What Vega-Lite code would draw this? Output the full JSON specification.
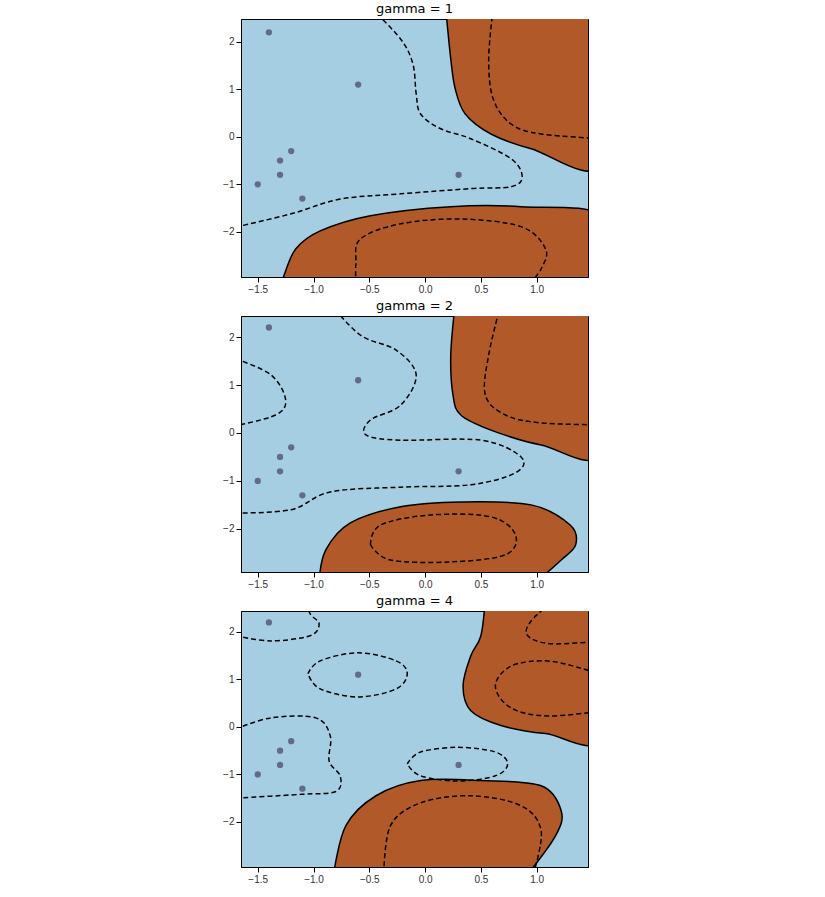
{
"$schema":"https://vega.github.io/schema/vega-lite/v6.json",
"padding":{"left":222,"top":2,"right":5,"bottom":2},
"spacing":4,
"config":{"view":{"fill":"#a6cee3","stroke":"black"},"axis":{"grid":false,"labelFontSize":10,"labelColor":"#333","domain":true,"domainColor":"black","tickColor":"black","title":null},"title":{"fontSize":13,"fontWeight":"normal","font":"DejaVu Sans","offset":3}},
"datasets":{
"c":[
{"p":1,"g":"f1","k":"f","o":1,"x":0.185,"y":2.7},{"p":1,"g":"f1","k":"f","o":2,"x":0.23,"y":1.64},{"p":1,"g":"f1","k":"f","o":3,"x":0.27,"y":1.01},{"p":1,"g":"f1","k":"f","o":4,"x":0.36,"y":0.48},{"p":1,"g":"f1","k":"f","o":5,"x":0.59,"y":0.06},{"p":1,"g":"f1","k":"f","o":6,"x":0.95,"y":-0.25},{"p":1,"g":"f1","k":"f","o":7,"x":1.6,"y":-0.55},{"p":1,"g":"f1","k":"f","o":8,"x":1.6,"y":2.7},
{"p":1,"g":"f2","k":"f","o":1,"x":-1.3,"y":-3.1},{"p":1,"g":"f2","k":"f","o":2,"x":-1.27,"y":-2.95},{"p":1,"g":"f2","k":"f","o":3,"x":-1.16,"y":-2.36},{"p":1,"g":"f2","k":"f","o":4,"x":-0.94,"y":-1.98},{"p":1,"g":"f2","k":"f","o":5,"x":-0.49,"y":-1.66},{"p":1,"g":"f2","k":"f","o":6,"x":0.23,"y":-1.47},{"p":1,"g":"f2","k":"f","o":7,"x":0.86,"y":-1.47},{"p":1,"g":"f2","k":"f","o":8,"x":1.6,"y":-1.68},{"p":1,"g":"f2","k":"f","o":9,"x":1.6,"y":-3.1},
{"p":1,"g":"d1","k":"d","o":1,"x":-0.48,"y":2.7},{"p":1,"g":"d1","k":"d","o":2,"x":-0.22,"y":2.06},{"p":1,"g":"d1","k":"d","o":3,"x":-0.11,"y":1.54},{"p":1,"g":"d1","k":"d","o":4,"x":-0.08,"y":0.91},{"p":1,"g":"d1","k":"d","o":5,"x":-0.04,"y":0.48},{"p":1,"g":"d1","k":"d","o":6,"x":0.14,"y":0.17},{"p":1,"g":"d1","k":"d","o":7,"x":0.41,"y":-0.04},{"p":1,"g":"d1","k":"d","o":8,"x":0.77,"y":-0.46},{"p":1,"g":"d1","k":"d","o":9,"x":0.87,"y":-0.84},{"p":1,"g":"d1","k":"d","o":10,"x":0.77,"y":-1.05},{"p":1,"g":"d1","k":"d","o":11,"x":0.41,"y":-1.09},{"p":1,"g":"d1","k":"d","o":12,"x":-0.22,"y":-1.2},{"p":1,"g":"d1","k":"d","o":13,"x":-0.76,"y":-1.31},{"p":1,"g":"d1","k":"d","o":14,"x":-1.2,"y":-1.62},{"p":1,"g":"d1","k":"d","o":15,"x":-1.7,"y":-1.9},
{"p":1,"g":"d2","k":"d","o":1,"x":0.61,"y":2.7},{"p":1,"g":"d2","k":"d","o":2,"x":0.57,"y":1.64},{"p":1,"g":"d2","k":"d","o":3,"x":0.61,"y":0.8},{"p":1,"g":"d2","k":"d","o":4,"x":0.77,"y":0.27},{"p":1,"g":"d2","k":"d","o":5,"x":1.04,"y":0.06},{"p":1,"g":"d2","k":"d","o":6,"x":1.6,"y":-0.04},
{"p":1,"g":"d3","k":"d","o":1,"x":-0.62,"y":-3.1},{"p":1,"g":"d3","k":"d","o":2,"x":-0.62,"y":-2.67},{"p":1,"g":"d3","k":"d","o":3,"x":-0.58,"y":-2.15},{"p":1,"g":"d3","k":"d","o":4,"x":-0.22,"y":-1.83},{"p":1,"g":"d3","k":"d","o":5,"x":0.32,"y":-1.73},{"p":1,"g":"d3","k":"d","o":6,"x":0.86,"y":-1.89},{"p":1,"g":"d3","k":"d","o":7,"x":1.08,"y":-2.36},{"p":1,"g":"d3","k":"d","o":8,"x":1.04,"y":-2.78},{"p":1,"g":"d3","k":"d","o":9,"x":0.93,"y":-3.1},

{"p":2,"g":"f1","k":"f","o":1,"x":0.27,"y":2.7},{"p":2,"g":"f1","k":"f","o":2,"x":0.23,"y":1.63},{"p":2,"g":"f1","k":"f","o":3,"x":0.25,"y":0.79},{"p":2,"g":"f1","k":"f","o":4,"x":0.32,"y":0.375},{"p":2,"g":"f1","k":"f","o":5,"x":0.59,"y":0.06},{"p":2,"g":"f1","k":"f","o":6,"x":1.04,"y":-0.25},{"p":2,"g":"f1","k":"f","o":7,"x":1.6,"y":-0.37},{"p":2,"g":"f1","k":"f","o":8,"x":1.6,"y":2.7},
{"p":2,"g":"f2","k":"f","o":1,"x":-0.95,"y":-3.1},{"p":2,"g":"f2","k":"f","o":2,"x":-0.89,"y":-2.44},{"p":2,"g":"f2","k":"f","o":3,"x":-0.67,"y":-1.875},{"p":2,"g":"f2","k":"f","o":4,"x":-0.22,"y":-1.54},{"p":2,"g":"f2","k":"f","o":5,"x":0.32,"y":-1.44},{"p":2,"g":"f2","k":"f","o":6,"x":0.95,"y":-1.5},{"p":2,"g":"f2","k":"f","o":7,"x":1.3,"y":-1.92},{"p":2,"g":"f2","k":"f","o":8,"x":1.35,"y":-2.33},{"p":2,"g":"f2","k":"f","o":9,"x":1.22,"y":-2.65},{"p":2,"g":"f2","k":"f","o":10,"x":1.0,"y":-3.1},
{"p":2,"g":"d1","k":"d","o":1,"x":-1.7,"y":1.55},{"p":2,"g":"d1","k":"d","o":2,"x":-1.38,"y":1.21},{"p":2,"g":"d1","k":"d","o":3,"x":-1.25,"y":0.69},{"p":2,"g":"d1","k":"d","o":4,"x":-1.34,"y":0.375},{"p":2,"g":"d1","k":"d","o":5,"x":-1.7,"y":0.15},
{"p":2,"g":"d2","k":"d","o":1,"x":-0.85,"y":2.7},{"p":2,"g":"d2","k":"d","o":2,"x":-0.58,"y":2.04},{"p":2,"g":"d2","k":"d","o":3,"x":-0.26,"y":1.73},{"p":2,"g":"d2","k":"d","o":4,"x":-0.08,"y":1.21},{"p":2,"g":"d2","k":"d","o":5,"x":-0.22,"y":0.58},{"p":2,"g":"d2","k":"d","o":6,"x":-0.49,"y":0.27},{"p":2,"g":"d2","k":"d","o":7,"x":-0.53,"y":-0.04},{"p":2,"g":"d2","k":"d","o":8,"x":-0.22,"y":-0.15},{"p":2,"g":"d2","k":"d","o":9,"x":0.5,"y":-0.15},{"p":2,"g":"d2","k":"d","o":10,"x":0.86,"y":-0.5},{"p":2,"g":"d2","k":"d","o":11,"x":0.81,"y":-0.83},{"p":2,"g":"d2","k":"d","o":12,"x":0.41,"y":-1.08},{"p":2,"g":"d2","k":"d","o":13,"x":-0.22,"y":-1.13},{"p":2,"g":"d2","k":"d","o":14,"x":-0.85,"y":-1.23},{"p":2,"g":"d2","k":"d","o":15,"x":-1.2,"y":-1.6},{"p":2,"g":"d2","k":"d","o":16,"x":-1.7,"y":-1.67},
{"p":2,"g":"d3","k":"d","o":1,"x":0.68,"y":2.7},{"p":2,"g":"d3","k":"d","o":2,"x":0.57,"y":1.63},{"p":2,"g":"d3","k":"d","o":3,"x":0.54,"y":0.79},{"p":2,"g":"d3","k":"d","o":4,"x":0.72,"y":0.375},{"p":2,"g":"d3","k":"d","o":5,"x":1.04,"y":0.21},{"p":2,"g":"d3","k":"d","o":6,"x":1.6,"y":0.17},
{"p":2,"g":"d4","k":"d","o":1,"x":-0.49,"y":-2.33},{"p":2,"g":"d4","k":"d","o":2,"x":-0.4,"y":-1.92},{"p":2,"g":"d4","k":"d","o":3,"x":0.05,"y":-1.71},{"p":2,"g":"d4","k":"d","o":4,"x":0.59,"y":-1.75},{"p":2,"g":"d4","k":"d","o":5,"x":0.81,"y":-2.125},{"p":2,"g":"d4","k":"d","o":6,"x":0.72,"y":-2.54},{"p":2,"g":"d4","k":"d","o":7,"x":0.23,"y":-2.69},{"p":2,"g":"d4","k":"d","o":8,"x":-0.31,"y":-2.65},{"p":2,"g":"d4","k":"d","o":9,"x":-0.49,"y":-2.33},

{"p":4,"g":"f1","k":"f","o":1,"x":0.54,"y":2.7},{"p":4,"g":"f1","k":"f","o":2,"x":0.5,"y":1.92},{"p":4,"g":"f1","k":"f","o":3,"x":0.41,"y":1.5},{"p":4,"g":"f1","k":"f","o":4,"x":0.34,"y":0.86},{"p":4,"g":"f1","k":"f","o":5,"x":0.41,"y":0.34},{"p":4,"g":"f1","k":"f","o":6,"x":0.68,"y":0.03},{"p":4,"g":"f1","k":"f","o":7,"x":1.08,"y":-0.14},{"p":4,"g":"f1","k":"f","o":8,"x":1.6,"y":-0.19},{"p":4,"g":"f1","k":"f","o":9,"x":1.6,"y":2.7},
{"p":4,"g":"f2","k":"f","o":1,"x":-0.82,"y":-3.1},{"p":4,"g":"f2","k":"f","o":2,"x":-0.71,"y":-2.08},{"p":4,"g":"f2","k":"f","o":3,"x":-0.44,"y":-1.45},{"p":4,"g":"f2","k":"f","o":4,"x":-0.04,"y":-1.13},{"p":4,"g":"f2","k":"f","o":5,"x":0.5,"y":-1.13},{"p":4,"g":"f2","k":"f","o":6,"x":1.04,"y":-1.24},{"p":4,"g":"f2","k":"f","o":7,"x":1.22,"y":-1.77},{"p":4,"g":"f2","k":"f","o":8,"x":1.17,"y":-2.29},{"p":4,"g":"f2","k":"f","o":9,"x":0.92,"y":-3.1},
{"p":4,"g":"d1","k":"d","o":1,"x":-1.7,"y":1.92},{"p":4,"g":"d1","k":"d","o":2,"x":-1.38,"y":1.81},{"p":4,"g":"d1","k":"d","o":3,"x":-1.03,"y":1.92},{"p":4,"g":"d1","k":"d","o":4,"x":-0.95,"y":2.17},{"p":4,"g":"d1","k":"d","o":5,"x":-1.03,"y":2.38},{"p":4,"g":"d1","k":"d","o":6,"x":-1.08,"y":2.7},
{"p":4,"g":"d2","k":"d","o":1,"x":-1.05,"y":1.12},{"p":4,"g":"d2","k":"d","o":2,"x":-0.94,"y":1.39},{"p":4,"g":"d2","k":"d","o":3,"x":-0.6,"y":1.56},{"p":4,"g":"d2","k":"d","o":4,"x":-0.26,"y":1.39},{"p":4,"g":"d2","k":"d","o":5,"x":-0.16,"y":1.12},{"p":4,"g":"d2","k":"d","o":6,"x":-0.26,"y":0.8},{"p":4,"g":"d2","k":"d","o":7,"x":-0.6,"y":0.63},{"p":4,"g":"d2","k":"d","o":8,"x":-0.94,"y":0.8},{"p":4,"g":"d2","k":"d","o":9,"x":-1.05,"y":1.12},
{"p":4,"g":"d3","k":"d","o":1,"x":-1.7,"y":-0.05},{"p":4,"g":"d3","k":"d","o":2,"x":-1.38,"y":0.19},{"p":4,"g":"d3","k":"d","o":3,"x":-0.98,"y":0.19},{"p":4,"g":"d3","k":"d","o":4,"x":-0.85,"y":-0.19},{"p":4,"g":"d3","k":"d","o":5,"x":-0.86,"y":-0.72},{"p":4,"g":"d3","k":"d","o":6,"x":-0.76,"y":-1.04},{"p":4,"g":"d3","k":"d","o":7,"x":-0.8,"y":-1.36},{"p":4,"g":"d3","k":"d","o":8,"x":-1.11,"y":-1.42},{"p":4,"g":"d3","k":"d","o":9,"x":-1.7,"y":-1.5},
{"p":4,"g":"d4","k":"d","o":1,"x":-0.16,"y":-0.78},{"p":4,"g":"d4","k":"d","o":2,"x":-0.04,"y":-0.53},{"p":4,"g":"d4","k":"d","o":3,"x":0.29,"y":-0.43},{"p":4,"g":"d4","k":"d","o":4,"x":0.63,"y":-0.53},{"p":4,"g":"d4","k":"d","o":5,"x":0.74,"y":-0.78},{"p":4,"g":"d4","k":"d","o":6,"x":0.63,"y":-1.03},{"p":4,"g":"d4","k":"d","o":7,"x":0.29,"y":-1.14},{"p":4,"g":"d4","k":"d","o":8,"x":-0.04,"y":-1.03},{"p":4,"g":"d4","k":"d","o":9,"x":-0.16,"y":-0.78},
{"p":4,"g":"d5","k":"d","o":1,"x":1.17,"y":2.7},{"p":4,"g":"d5","k":"d","o":2,"x":0.95,"y":2.23},{"p":4,"g":"d5","k":"d","o":3,"x":0.92,"y":1.92},{"p":4,"g":"d5","k":"d","o":4,"x":1.13,"y":1.75},{"p":4,"g":"d5","k":"d","o":5,"x":1.6,"y":1.81},
{"p":4,"g":"d6","k":"d","o":1,"x":1.6,"y":1.07},{"p":4,"g":"d6","k":"d","o":2,"x":1.39,"y":1.24},{"p":4,"g":"d6","k":"d","o":3,"x":1.08,"y":1.39},{"p":4,"g":"d6","k":"d","o":4,"x":0.77,"y":1.28},{"p":4,"g":"d6","k":"d","o":5,"x":0.63,"y":0.86},{"p":4,"g":"d6","k":"d","o":6,"x":0.77,"y":0.4},{"p":4,"g":"d6","k":"d","o":7,"x":1.1,"y":0.23},{"p":4,"g":"d6","k":"d","o":8,"x":1.6,"y":0.34},
{"p":4,"g":"d7","k":"d","o":1,"x":-0.37,"y":-3.1},{"p":4,"g":"d7","k":"d","o":2,"x":-0.31,"y":-2.08},{"p":4,"g":"d7","k":"d","o":3,"x":-0.04,"y":-1.6},{"p":4,"g":"d7","k":"d","o":4,"x":0.41,"y":-1.45},{"p":4,"g":"d7","k":"d","o":5,"x":0.86,"y":-1.66},{"p":4,"g":"d7","k":"d","o":6,"x":1.04,"y":-2.19},{"p":4,"g":"d7","k":"d","o":7,"x":0.97,"y":-3.1}
],
"pts":[{"x":-1.4,"y":2.2},{"x":-0.6,"y":1.1},{"x":-1.2,"y":-0.3},{"x":-1.3,"y":-0.5},{"x":-1.3,"y":-0.8},{"x":-1.5,"y":-1.0},{"x":-1.1,"y":-1.3},{"x":0.3,"y":-0.8}]
},
"vconcat":[
{"title":"gamma = 1","width":347,"height":258,"layer":[
{"data":{"name":"c"},"transform":[{"filter":"datum.p==1 && datum.k=='f'"}],"mark":{"type":"line","fill":"#b15928","stroke":"black","strokeWidth":1.5,"clip":true,"interpolate":"cardinal"},"encoding":{"x":{"field":"x","type":"quantitative","scale":{"domain":[-1.65,1.46],"nice":false,"zero":false},"axis":{"values":[-1.5,-1,-0.5,0,0.5,1],"format":".1f"}},"y":{"field":"y","type":"quantitative","scale":{"domain":[-2.95,2.48],"nice":false,"zero":false},"axis":{"values":[-2,-1,0,1,2],"format":"d"}},"detail":{"field":"g"},"order":{"field":"o"}}},
{"data":{"name":"c"},"transform":[{"filter":"datum.p==1 && datum.k=='d'"}],"mark":{"type":"line","stroke":"black","strokeDash":[5,3],"strokeWidth":1.5,"clip":true,"interpolate":"cardinal"},"encoding":{"x":{"field":"x","type":"quantitative"},"y":{"field":"y","type":"quantitative"},"detail":{"field":"g"},"order":{"field":"o"}}},
{"data":{"name":"pts"},"mark":{"type":"circle","size":40,"color":"#646a8a","opacity":1},"encoding":{"x":{"field":"x","type":"quantitative"},"y":{"field":"y","type":"quantitative"}}}
]},
{"title":"gamma = 2","width":347,"height":256,"layer":[
{"data":{"name":"c"},"transform":[{"filter":"datum.p==2 && datum.k=='f'"}],"mark":{"type":"line","fill":"#b15928","stroke":"black","strokeWidth":1.5,"clip":true,"interpolate":"cardinal"},"encoding":{"x":{"field":"x","type":"quantitative","scale":{"domain":[-1.65,1.46],"nice":false,"zero":false},"axis":{"values":[-1.5,-1,-0.5,0,0.5,1],"format":".1f"}},"y":{"field":"y","type":"quantitative","scale":{"domain":[-2.9,2.44],"nice":false,"zero":false},"axis":{"values":[-2,-1,0,1,2],"format":"d"}},"detail":{"field":"g"},"order":{"field":"o"}}},
{"data":{"name":"c"},"transform":[{"filter":"datum.p==2 && datum.k=='d'"}],"mark":{"type":"line","stroke":"black","strokeDash":[5,3],"strokeWidth":1.5,"clip":true,"interpolate":"cardinal"},"encoding":{"x":{"field":"x","type":"quantitative"},"y":{"field":"y","type":"quantitative"},"detail":{"field":"g"},"order":{"field":"o"}}},
{"data":{"name":"pts"},"mark":{"type":"circle","size":40,"color":"#646a8a","opacity":1},"encoding":{"x":{"field":"x","type":"quantitative"},"y":{"field":"y","type":"quantitative"}}}
]},
{"title":"gamma = 4","width":347,"height":256,"layer":[
{"data":{"name":"c"},"transform":[{"filter":"datum.p==4 && datum.k=='f'"}],"mark":{"type":"line","fill":"#b15928","stroke":"black","strokeWidth":1.5,"clip":true,"interpolate":"cardinal"},"encoding":{"x":{"field":"x","type":"quantitative","scale":{"domain":[-1.65,1.46],"nice":false,"zero":false},"axis":{"values":[-1.5,-1,-0.5,0,0.5,1],"format":".1f"}},"y":{"field":"y","type":"quantitative","scale":{"domain":[-2.95,2.44],"nice":false,"zero":false},"axis":{"values":[-2,-1,0,1,2],"format":"d"}},"detail":{"field":"g"},"order":{"field":"o"}}},
{"data":{"name":"c"},"transform":[{"filter":"datum.p==4 && datum.k=='d'"}],"mark":{"type":"line","stroke":"black","strokeDash":[5,3],"strokeWidth":1.5,"clip":true,"interpolate":"cardinal"},"encoding":{"x":{"field":"x","type":"quantitative"},"y":{"field":"y","type":"quantitative"},"detail":{"field":"g"},"order":{"field":"o"}}},
{"data":{"name":"pts"},"mark":{"type":"circle","size":40,"color":"#646a8a","opacity":1},"encoding":{"x":{"field":"x","type":"quantitative"},"y":{"field":"y","type":"quantitative"}}}
]}
]
}
